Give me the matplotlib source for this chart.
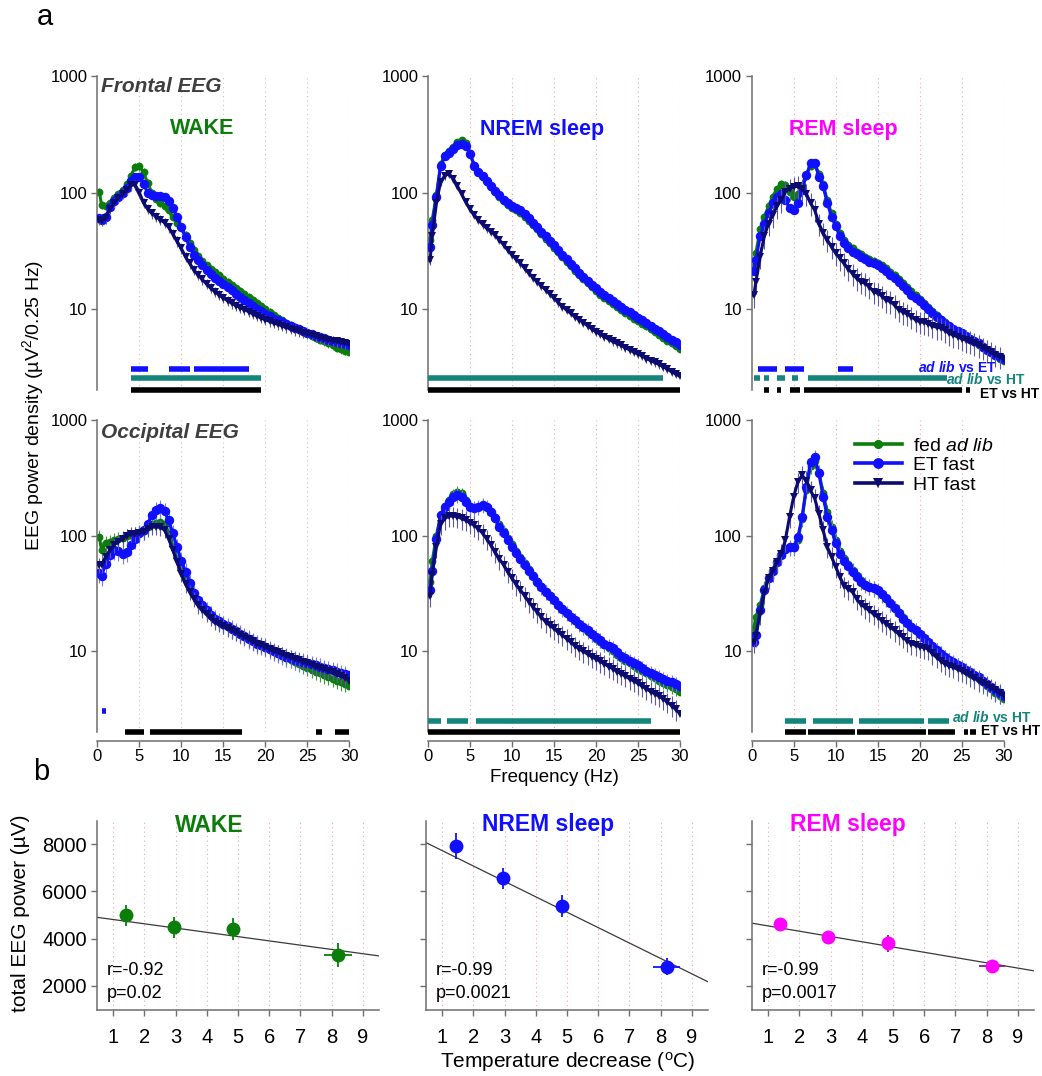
"""EEG spectra during fasting-induced cooling, plus total EEG power vs temperature drop."""

import matplotlib.pyplot as plt
from matplotlib.lines import Line2D
from matplotlib.ticker import NullLocator
from matplotlib.transforms import blended_transform_factory

plt.rcParams["font.family"] = ["Liberation Sans", "DejaVu Sans"]
plt.rcParams["mathtext.fontset"] = "custom"
plt.rcParams["mathtext.rm"] = "Liberation Sans"
plt.rcParams["mathtext.it"] = "Liberation Sans:italic"
plt.rcParams["mathtext.bf"] = "Liberation Sans:bold"
plt.rcParams["mathtext.bfit"] = "Liberation Sans:bold:italic"

# ---------------------------------------------------------------- spectra (a)
FREQ = [0.25, 0.5, 1.0, 1.5, 2.0, 2.5, 3.0, 3.5, 4.0, 4.5, 5.0,
        5.5, 6.0, 6.5, 7.0, 7.5, 8.0, 8.5, 9.0, 9.5, 10.0,
        10.5, 11.0, 11.5, 12.0, 12.5, 13.0, 13.5, 14.0, 14.5, 15.0,
        15.5, 16.0, 16.5, 17.0, 17.5, 18.0, 18.5, 19.0, 19.5, 20.0,
        20.5, 21.0, 21.5, 22.0, 22.5, 23.0, 23.5, 24.0, 24.5, 25.0,
        25.5, 26.0, 26.5, 27.0, 27.5, 28.0, 28.5, 29.0, 29.5, 30.0]

F_WAKE_ADLIB = [102, 78, 77, 82, 90, 97, 105, 118, 140, 165, 168,
                150, 120, 100, 88, 82, 76, 70, 62, 55, 50,
                43, 37, 32, 28.5, 25.5, 23.5, 21.9, 20.5, 19.3, 18.1,
                17.0, 16.0, 15.1, 14.2, 13.4, 12.6, 11.9, 11.2, 10.5, 9.9,
                9.3, 8.8, 8.3, 7.9, 7.5, 7.2, 6.9, 6.6, 6.35, 6.1,
                5.85, 5.6, 5.4, 5.2, 5.0, 4.8, 4.6, 4.45, 4.3, 4.2]
F_WAKE_ET = [60, 58, 62, 75, 85, 92, 100, 110, 125, 135, 135,
             118, 100, 95, 94, 93, 92, 85, 74, 62, 50,
             41, 34, 29, 26, 23.5, 21.5, 19.9, 18.5, 17.3, 16.2,
             15.2, 14.3, 13.4, 12.6, 11.9, 11.2, 10.6, 10.0, 9.5, 9.05,
             8.6, 8.2, 7.9, 7.6, 7.3, 7.05, 6.8, 6.6, 6.4, 6.2,
             6.0, 5.85, 5.7, 5.55, 5.4, 5.25, 5.1, 5.0, 4.9, 4.8]
F_WAKE_HT = [58, 57, 60, 72, 82, 90, 97, 105, 115, 117, 100,
             82, 72, 66, 62, 58, 55, 50, 44, 38, 33,
             28, 24.5, 21.5, 19.5, 17.8, 16.3, 15.0, 14.0, 13.1, 12.3,
             11.7, 11.1, 10.6, 10.2, 9.8, 9.4, 9.0, 8.6, 8.3, 8.0,
             7.75, 7.5, 7.3, 7.1, 6.9, 6.7, 6.5, 6.35, 6.2, 6.05,
             5.9, 5.75, 5.6, 5.5, 5.4, 5.3, 5.2, 5.1, 5.0, 4.9]

F_NREM_ADLIB = [39, 58, 95, 175, 210, 228, 245, 270, 285, 265, 220,
                172, 150, 137, 124, 112, 101, 92, 84, 78, 74,
                71, 67, 62, 57, 52.5, 48, 44, 40, 36.5, 33.3,
                30.4, 27.7, 25.3, 23.1, 21.2, 19.5, 17.9, 16.5, 15.3, 14.2,
                13.2, 12.4, 11.6, 10.9, 10.3, 9.7, 9.2, 8.7, 8.2, 7.8,
                7.4, 7.0, 6.6, 6.25, 5.9, 5.6, 5.3, 5.0, 4.75, 4.5]
F_NREM_ET = [34, 52, 92, 170, 205, 220, 235, 255, 262, 250, 215,
             170, 150, 138, 125, 114, 104, 95, 87, 81, 77,
             74, 70, 65, 60, 55, 50.5, 46, 42, 38.5, 35,
             32, 29, 26.5, 24.2, 22.2, 20.4, 18.8, 17.4, 16.1, 15,
             14.0, 13.1, 12.3, 11.6, 11.0, 10.4, 9.8, 9.3, 8.8, 8.35,
             7.9, 7.5, 7.1, 6.7, 6.35, 6.0, 5.7, 5.4, 5.1, 4.8]
F_NREM_HT = [26, 42, 81, 124, 140, 145, 132, 114, 97, 83, 72,
             64, 58, 53, 49, 46, 43, 39, 35.5, 32, 29,
             26.7, 24.5, 22.2, 20.2, 18.5, 17, 15.7, 14.5, 13.4, 12.3,
             11.3, 10.4, 9.7, 9.1, 8.5, 8.0, 7.55, 7.1, 6.7, 6.3,
             6.0, 5.7, 5.45, 5.2, 5.0, 4.8, 4.6, 4.4, 4.2, 4.05,
             3.9, 3.7, 3.56, 3.43, 3.3, 3.15, 3.0, 2.85, 2.72, 2.6]

F_REM_ADLIB = [23, 30, 48, 62, 76, 92, 108, 118, 117, 102, 92,
               98, 115, 140, 170, 178, 145, 118, 86, 66, 54,
               45, 39, 35.5, 33, 31, 29.5, 28, 26.8, 25.8, 24.8,
               23.5, 22.2, 20.8, 19.4, 18, 16.6, 15.3, 14.1, 13.0, 12.0,
               11.1, 10.3, 9.5, 8.8, 8.2, 7.6, 7.1, 6.7, 6.35, 6.0,
               5.7, 5.4, 5.1, 4.85, 4.6, 4.35, 4.1, 3.9, 3.7, 3.55]
F_REM_ET = [21, 26, 42, 54, 66, 81, 92, 98, 86, 73, 71,
            81, 105, 141, 178, 180, 137, 113, 81, 62, 51,
            42, 36.6, 33.5, 31, 29.5, 28, 26.5, 25.3, 24.5, 23.7,
            22.3, 21, 19.6, 18.3, 16.8, 15.5, 14.3, 13.2, 12.3, 11.5,
            10.7, 10, 9.2, 8.5, 7.9, 7.4, 7.0, 6.7, 6.4, 6.1,
            5.8, 5.5, 5.25, 5.0, 4.7, 4.4, 4.2, 4.0, 3.85, 3.7]
F_REM_HT = [13, 17, 28, 42, 54, 64, 76, 86, 102, 108, 112,
            113, 108, 98, 81, 71, 54, 45, 39, 34, 30,
            27, 24.5, 22, 20, 18.2, 17, 16.5, 15.4, 14.0, 13.5,
            12.9, 11.8, 11.5, 10.7, 9.8, 9.3, 9.0, 8.5, 8.0, 7.7,
            7.6, 7.4, 7.1, 6.9, 6.8, 6.5, 6.1, 5.9, 5.7, 5.5,
            5.35, 5.2, 5.0, 4.8, 4.6, 4.4, 4.2, 4.0, 3.85, 3.7]

O_WAKE_ADLIB = [97, 76, 86, 88, 92, 94, 96, 99, 101, 103, 106,
                110, 118, 126, 130, 132, 125, 108, 86, 67, 53,
                43, 36, 31, 27, 24.3, 22, 20.4, 19, 18, 17,
                16.2, 15.5, 14.8, 14.1, 13.4, 12.8, 12.2, 11.7, 11.2, 10.8,
                10.3, 9.9, 9.5, 9.1, 8.7, 8.4, 8.1, 7.8, 7.5, 7.2,
                6.95, 6.7, 6.45, 6.2, 6.0, 5.8, 5.6, 5.4, 5.2, 5.0]
O_WAKE_ET = [48, 45, 57, 68, 75, 74, 70, 72, 83, 94, 105,
             112, 127, 151, 166, 172, 162, 136, 105, 80, 61,
             49, 39, 31.7, 27.7, 25, 22.6, 20.8, 19.2, 18.2, 17.3,
             16.5, 15.7, 14.9, 14.2, 13.5, 12.9, 12.3, 11.7, 11.3, 11.0,
             10.5, 10.0, 9.6, 9.3, 9.0, 8.7, 8.5, 8.3, 8.15, 8.0,
             7.8, 7.6, 7.4, 7.2, 7.05, 6.9, 6.7, 6.5, 6.35, 6.2]
O_WAKE_HT = [56, 56, 66, 75, 83, 89, 94, 100, 103, 104, 105,
             108, 115, 119, 119, 118, 112, 94, 75, 59, 47,
             38, 32.6, 28.5, 25, 22.8, 21, 19.4, 18, 17.2, 16.5,
             15.8, 15.2, 14.6, 14, 13.4, 12.8, 12.2, 11.7, 11.3, 10.9,
             10.5, 10.1, 9.8, 9.5, 9.2, 8.9, 8.6, 8.4, 8.15, 7.9,
             7.65, 7.4, 7.2, 7.0, 6.8, 6.6, 6.35, 6.1, 5.85, 5.6]

O_NREM_ADLIB = [40, 60, 100, 150, 180, 205, 228, 240, 232, 205, 180,
                172, 178, 182, 178, 165, 146, 125, 110, 96, 84,
                74, 65, 58, 52, 46, 41, 37, 33.5, 30.5, 28,
                25.6, 23.5, 21.6, 19.9, 18.4, 17.1, 15.9, 14.8, 13.8, 12.9,
                12.1, 11.3, 10.6, 10.0, 9.4, 8.8, 8.3, 7.9, 7.5, 7.1,
                6.8, 6.45, 6.15, 5.85, 5.6, 5.35, 5.1, 4.9, 4.7, 4.5]
O_NREM_ET = [34, 50, 94, 150, 178, 196, 216, 224, 216, 196, 178,
             172, 178, 184, 178, 161, 141, 120, 105, 92, 80,
             71, 63, 56, 50, 45, 40, 36, 32.6, 30, 27.7,
             25.4, 23.4, 21.6, 19.9, 18.6, 17.4, 16.3, 15.2, 14.2, 13.3,
             12.5, 11.7, 11.1, 10.6, 9.9, 9.2, 8.7, 8.3, 7.9, 7.6,
             7.2, 6.8, 6.5, 6.2, 6.0, 5.8, 5.6, 5.4, 5.2, 5.0]
O_NREM_HT = [30, 46, 80, 127, 141, 148, 148, 146, 141, 136, 129,
             123, 115, 105, 94, 83, 72, 63, 56, 49, 43,
             38, 34, 30.3, 27, 24.3, 22, 19.9, 18, 16.8, 15.8,
             14.7, 13.8, 12.9, 12.0, 11.2, 10.5, 10.0, 9.5, 9.0, 8.6,
             8.2, 7.8, 7.4, 7.1, 6.7, 6.4, 6.1, 5.8, 5.55, 5.3,
             5.0, 4.75, 4.5, 4.3, 4.1, 3.9, 3.65, 3.4, 3.15, 2.9]

O_REM_ADLIB = [16, 20, 25, 35, 44, 51, 60, 68, 76, 78, 78,
               92, 140, 250, 400, 440, 355, 235, 160, 120, 92,
               74, 64, 57, 51, 46, 41.5, 38.5, 36.5, 35, 33.5,
               31, 28.5, 26, 23.8, 21.7, 19.7, 18, 16.6, 15.3, 14.1,
               13, 12.0, 11.1, 10.3, 9.6, 9.0, 8.5, 8.0, 7.6, 7.2,
               6.8, 6.4, 6.1, 5.8, 5.4, 5.0, 4.7, 4.4, 4.1, 3.9]
O_REM_ET = [12, 14, 22.6, 34, 43, 50, 59, 68, 77, 80, 80,
            97, 145, 265, 435, 480, 345, 218, 145, 112, 86,
            70, 61, 55, 49, 44, 40, 37.5, 36, 35, 34,
            31.5, 28.8, 26, 23.6, 21.3, 19.2, 17.6, 16.3, 15.2, 14.1,
            13, 12.0, 11.1, 10.2, 9.5, 8.9, 8.5, 8.1, 7.7, 7.3,
            6.9, 6.6, 6.3, 6.0, 5.6, 5.2, 4.9, 4.6, 4.35, 4.1]
O_REM_HT = [12, 13.7, 21, 32, 43, 50, 59, 70, 91, 145, 218,
            293, 333, 300, 246, 210, 155, 112, 80, 66, 54,
            44, 37, 34.5, 32.6, 28.5, 25.6, 24, 22.6, 21, 19.9,
            18.5, 17.4, 16.2, 15.2, 14.2, 13.3, 12.4, 11.7, 11.3, 11.0,
            10.8, 10.5, 9.6, 8.9, 8.3, 7.8, 7.5, 7.3, 7.0, 6.8,
            6.5, 6.2, 5.9, 5.6, 5.35, 5.1, 4.85, 4.6, 4.35, 4.1]

# relative SEM per group (ad lib, ET fast, HT fast) in each panel
F_WAKE_SEM = [0.08, 0.05, 0.10]
F_NREM_SEM = [0.06, 0.05, 0.08]
F_REM_SEM = [0.08, 0.06, 0.22]
O_WAKE_SEM = [0.15, 0.18, 0.15]
O_NREM_SEM = [0.12, 0.15, 0.20]
O_REM_SEM = [0.15, 0.15, 0.20]

# significant frequency ranges (Hz): ad lib vs ET, ad lib vs HT, ET vs HT
F_WAKE_SIG = [[(4.0, 6.0), (8.5, 11.0), (11.5, 18.0)],
              [(4.0, 19.5)],
              [(4.0, 19.5)]]
F_NREM_SIG = [[],
              [(0.0, 28.0)],
              [(0.0, 30.0)]]
F_REM_SIG = [[(0.75, 3.0), (4.0, 6.25), (10.25, 12.0)],
             [(0.25, 1.0), (1.5, 2.0), (3.0, 4.0), (4.75, 5.5), (6.75, 23.25)],
             [(1.5, 2.0), (3.0, 3.5), (4.5, 5.75), (6.25, 25.0), (25.5, 26.0)]]
O_WAKE_SIG = [[(0.5, 1.0)],
              [],
              [(3.25, 5.5), (6.25, 17.25), (26.0, 26.75), (28.25, 30.0)]]
O_NREM_SIG = [[],
              [(0.0, 1.5), (2.25, 4.75), (5.75, 26.5)],
              [(0.0, 30.0)]]
O_REM_SIG = [[],
             [(4.0, 6.5), (7.25, 12.0), (12.75, 20.5), (21.0, 23.5)],
             [(4.0, 6.5), (6.75, 12.25), (12.5, 20.75), (21.0, 24.25),
              (25.25, 25.75), (26.0, 26.75)]]

GROUP_LABELS = [r"fed $\mathit{ad\ lib}$", "ET fast", "HT fast"]
FREQ_TICKS = [0, 5, 10, 15, 20, 25, 30]

# ------------------------------------------------------- total power (b)
WAKE_TEMP = [1.4, 2.95, 4.85, 8.2]
WAKE_TEMP_ERR = [0, 0, 0, 0.44]
WAKE_POWER = [4980, 4480, 4410, 3310]
WAKE_POWER_ERR = [460, 455, 480, 500]
WAKE_FIT = [4900, 3270]  # fitted line at 0.5 and 9.5 degC

NREM_TEMP = [1.44, 2.96, 4.84, 8.19]
NREM_TEMP_ERR = [0, 0, 0, 0.43]
NREM_POWER = [7915, 6550, 5375, 2810]
NREM_POWER_ERR = [540, 430, 460, 350]
NREM_FIT = [8055, 2180]

REM_TEMP = [1.38, 2.92, 4.83, 8.17]
REM_TEMP_ERR = [0, 0, 0, 0.43]
REM_POWER = [4600, 4085, 3800, 2850]
REM_POWER_ERR = [250, 100, 350, 80]
REM_FIT = [4650, 2640]

FIT_X = [0.5, 9.5]
STATS = [("r=-0.92", "p=0.02"), ("r=-0.99", "p=0.0021"), ("r=-0.99", "p=0.0017")]

# ------------------------------------------------------------------ styling
W_PX, H_PX = 1042, 1076
GREEN, BLUE, NAVY, MAGENTA, TEAL = "#0a7d0a", "#1010ff", "#0b0b70", "#ff00ff", "#13857d"
GROUP_COLORS = [GREEN, BLUE, NAVY]
ERR_COLORS = ["#3f9a3f", "#7a7aff", "#5a5aa8"]
MARKERS = ["o", "o", "v"]
MARKER_SIZES = [5.6, 6.8, 6.0]
SIG_COLORS = [BLUE, TEAL, "black"]
SIG_LEVELS = [0.067, 0.036, 0.0]
SPINE = "#6e6e6e"


def fig_xy(px, py):
    """Convert pixel position in the reference (top-left origin) to figure coords."""
    return px / W_PX, 1 - py / H_PX


def add_axes_px(fig, left, top, right, bottom):
    x0, y0 = fig_xy(left, bottom)
    return fig.add_axes([x0, y0, (right - left) / W_PX, (bottom - top) / H_PX])


def style_spectrum_axis(ax, column, show_x):
    ax.set_yscale("log")
    ax.set_xlim(0, 30)
    ax.set_ylim(2, 1000)
    ax.set_yticks([10, 100, 1000])
    ax.set_yticklabels(["10", "100", "1000"])
    ax.yaxis.set_minor_locator(NullLocator())
    ax.spines["top"].set_visible(False)
    ax.spines["right"].set_visible(False)
    ax.spines["left"].set_color(SPINE)
    ax.spines["left"].set_linewidth(1.1)
    ax.tick_params(axis="y", direction="out", length=4, width=1, color=SPINE,
                   labelsize=12, pad=3)
    grid_color = "#c4c4c4" if column == 0 else "#eaa8a8"
    for f in FREQ_TICKS[1:]:
        ax.axvline(f, color=grid_color, linestyle=(0, (1, 3)), linewidth=0.8, zorder=0)
    if show_x:
        ax.spines["bottom"].set_position(("outward", 6))
        ax.spines["bottom"].set_color(SPINE)
        ax.spines["bottom"].set_linewidth(1.1)
        ax.set_xticks(FREQ_TICKS)
        ax.tick_params(axis="x", direction="out", length=4, width=1, color=SPINE,
                       labelsize=12, pad=2)
    else:
        ax.spines["bottom"].set_visible(False)
        ax.tick_params(axis="x", bottom=False, labelbottom=False)


def plot_spectra(ax, series, sems):
    for i, (values, sem) in enumerate(zip(series, sems)):
        errors = [v * sem for v in values]
        ax.errorbar(FREQ, values, yerr=errors, color=GROUP_COLORS[i], ecolor=ERR_COLORS[i],
                    elinewidth=0.8, capsize=0, marker=MARKERS[i], ms=MARKER_SIZES[i],
                    mew=0, lw=2.2, zorder=2 + i)


def plot_significance(ax, groups):
    trans = blended_transform_factory(ax.transData, ax.transAxes)
    for ranges, color, level in zip(groups, SIG_COLORS, SIG_LEVELS):
        for start, end in ranges:
            ax.add_line(Line2D([start, end], [level, level], transform=trans, color=color,
                               linewidth=4.0, solid_capstyle="butt", clip_on=False, zorder=5))


def style_power_axis(ax, show_labels):
    ax.set_xlim(0.5, 9.5)
    ax.set_ylim(1000, 9000)
    ax.set_xticks(range(1, 10))
    ax.set_yticks([2000, 4000, 6000, 8000])
    for side in ("top", "right"):
        ax.spines[side].set_visible(False)
    for side in ("left", "bottom"):
        ax.spines[side].set_color(SPINE)
        ax.spines[side].set_linewidth(1.1)
    ax.tick_params(direction="out", length=4, width=1, color=SPINE, labelsize=14.5)
    ax.tick_params(axis="x", pad=9)
    if not show_labels:
        ax.tick_params(axis="y", labelleft=False)
    for t in range(1, 10):
        ax.axvline(t, color="#eaa8a8", linestyle=(0, (1, 3)), linewidth=0.8, zorder=0)


def plot_power(ax, temp, temp_err, power, power_err, fit, color, err_color):
    ax.plot(FIT_X, fit, color="#3a3a3a", linewidth=0.9, zorder=2)
    ax.errorbar(temp, power, xerr=temp_err, yerr=power_err, fmt="o", color=color,
                ecolor=err_color, elinewidth=1.3, capsize=4.5, capthick=1.3, ms=10,
                mew=0, zorder=3)


def main():
    fig = plt.figure(figsize=(W_PX / 100, H_PX / 100), dpi=100)

    columns = [(97.3, 349.3), (428.0, 680.0), (751.7, 1003.7)]
    rows = [(76.5, 389.6), (420.0, 732.3)]
    panels = [
        [([F_WAKE_ADLIB, F_WAKE_ET, F_WAKE_HT], F_WAKE_SEM, F_WAKE_SIG),
         ([F_NREM_ADLIB, F_NREM_ET, F_NREM_HT], F_NREM_SEM, F_NREM_SIG),
         ([F_REM_ADLIB, F_REM_ET, F_REM_HT], F_REM_SEM, F_REM_SIG)],
        [([O_WAKE_ADLIB, O_WAKE_ET, O_WAKE_HT], O_WAKE_SEM, O_WAKE_SIG),
         ([O_NREM_ADLIB, O_NREM_ET, O_NREM_HT], O_NREM_SEM, O_NREM_SIG),
         ([O_REM_ADLIB, O_REM_ET, O_REM_HT], O_REM_SEM, O_REM_SIG)],
    ]
    spectrum_axes = []
    for r, (top, bottom) in enumerate(rows):
        for c, (left, right) in enumerate(columns):
            ax = add_axes_px(fig, left, top, right, bottom)
            series, sems, sig = panels[r][c]
            style_spectrum_axis(ax, c, show_x=(r == 1))
            plot_spectra(ax, series, sems)
            plot_significance(ax, sig)
            spectrum_axes.append(ax)

    # legend in occipital REM panel
    handles = [Line2D([], [], color=GROUP_COLORS[i], marker=MARKERS[i], ms=MARKER_SIZES[i] + 1,
                      mew=0, lw=2.6) for i in range(3)]
    spectrum_axes[5].legend(handles, GROUP_LABELS, loc="upper left", frameon=False,
                            bbox_to_anchor=fig_xy(855, 437), bbox_transform=fig.transFigure,
                            fontsize=14, handlelength=2.4, handletextpad=0.6,
                            labelspacing=0.1, borderaxespad=0, borderpad=0, numpoints=1)

    # panel titles
    gray = "#3f3f3f"
    fig.text(*fig_xy(101, 86), "Frontal EEG", color=gray, fontsize=15, fontweight="bold",
             fontstyle="italic", va="center", ha="left")
    fig.text(*fig_xy(101, 433), "Occipital EEG", color=gray, fontsize=15, fontweight="bold",
             fontstyle="italic", va="center", ha="left")
    for px, text, color in [(202, "WAKE", GREEN), (542, "NREM sleep", BLUE),
                            (843, "REM sleep", MAGENTA)]:
        fig.text(*fig_xy(px, 129), text, color=color, fontsize=15.5, fontweight="bold",
                 ha="center", va="center")

    # comparison labels next to the significance bars
    sig_texts = [
        (997, 367, r"$\mathbfit{ad\ lib}$ vs ET", BLUE),
        (1026, 380, r"$\mathbfit{ad\ lib}$ vs HT", TEAL),
        (1039, 394, "ET vs HT", "black"),
        (1032, 717, r"$\mathbfit{ad\ lib}$ vs HT", TEAL),
        (1040, 731, "ET vs HT", "black"),
    ]
    for px, py, text, color in sig_texts:
        fig.text(*fig_xy(px, py), text, color=color, fontsize=10, fontweight="bold",
                 ha="right", va="center")

    fig.text(*fig_xy(33, 405), "EEG power density (µV$^2$/0.25 Hz)", rotation=90,
             fontsize=14, ha="center", va="center")
    fig.text(*fig_xy(554, 777), "Frequency (Hz)", fontsize=13.5, ha="center", va="center")
    fig.text(*fig_xy(45, 17), "a", fontsize=21, ha="center", va="center")
    fig.text(*fig_xy(41, 772), "b", fontsize=21, ha="center", va="center")

    # total EEG power vs temperature decrease
    power_cols = [(97.4, 378.6), (426.4, 707.6), (752.4, 1033.6)]
    power_data = [
        (WAKE_TEMP, WAKE_TEMP_ERR, WAKE_POWER, WAKE_POWER_ERR, WAKE_FIT, GREEN, GREEN),
        (NREM_TEMP, NREM_TEMP_ERR, NREM_POWER, NREM_POWER_ERR, NREM_FIT, BLUE, BLUE),
        (REM_TEMP, REM_TEMP_ERR, REM_POWER, REM_POWER_ERR, REM_FIT, MAGENTA, "#8a1a8a"),
    ]
    titles = [(209, "WAKE", GREEN), (548, "NREM sleep", BLUE), (848, "REM sleep", MAGENTA)]
    for i, (left, right) in enumerate(power_cols):
        ax = add_axes_px(fig, left, 820.5, right, 1009.5)
        style_power_axis(ax, show_labels=(i == 0))
        plot_power(ax, *power_data[i])
        tx, ttext, tcolor = titles[i]
        fig.text(*fig_xy(tx, 825), ttext, color=tcolor, fontsize=16.5, fontweight="bold",
                 ha="center", va="center")
        r_text, p_text = STATS[i]
        ax.text(0.035, 0.205, r_text, transform=ax.transAxes, fontsize=13, va="center")
        ax.text(0.035, 0.085, p_text, transform=ax.transAxes, fontsize=13, va="center")

    fig.text(*fig_xy(21, 913), "total EEG power (µV)", rotation=90, fontsize=15,
             ha="center", va="center")
    fig.text(*fig_xy(568, 1062), r"Temperature decrease ($^{\mathrm{o}}$C)", fontsize=15,
             ha="center", va="center")

    fig.savefig("out.png", dpi=100)
    plt.close(fig)


if __name__ == "__main__":
    main()
